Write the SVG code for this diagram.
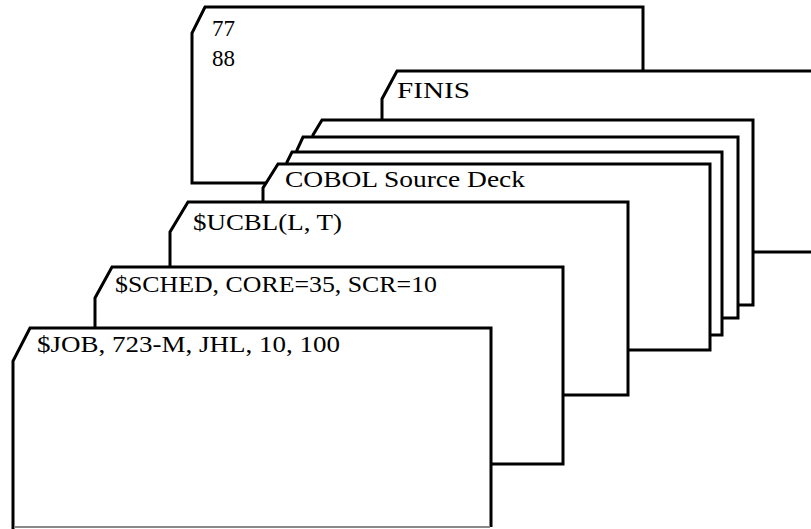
<svg xmlns="http://www.w3.org/2000/svg" width="811" height="529" viewBox="0 0 811 529">
<style>
.card{fill:#fff;stroke:#000;stroke-width:3;stroke-linejoin:miter}
.t{font-family:"Liberation Serif","Times New Roman",serif;font-size:23px;fill:#000}
</style>
<rect width="811" height="529" fill="#fff"/>
<g id="card-data">
<polygon class="card" points="205,7 643,7 643,183 192,183 192,33"/>
<text class="t" x="212" y="36">77</text>
<text class="t" x="212" y="66">88</text>
</g>
<g id="card-finis">
<polygon class="card" points="397,71 830,71 830,252 382,252 382,99"/>
<text class="t" x="397" y="98" textLength="73" lengthAdjust="spacingAndGlyphs">FINIS</text>
</g>
<g id="card-src1">
<polygon class="card" points="322,120 753,120 753,305 313,305 313,135"/>
</g>
<g id="card-src2">
<polygon class="card" points="303,137 738,137 738,318 297,318 297,150"/>
</g>
<g id="card-src3">
<polygon class="card" points="292,152 722,152 722,335 287,335 287,162"/>
</g>
<g id="card-cobol">
<polygon class="card" points="278,164 710,164 710,350 263,350 263,188"/>
<text class="t" x="285" y="187" textLength="240" lengthAdjust="spacingAndGlyphs">COBOL Source Deck</text>
</g>
<g id="card-ucbl">
<polygon class="card" points="188,202 628,202 628,395 170,395 170,232"/>
<text class="t" x="193" y="230" textLength="149" lengthAdjust="spacingAndGlyphs">$UCBL(L, T)</text>
</g>
<g id="card-sched">
<polygon class="card" points="112,267 563,267 563,464 95,464 95,298"/>
<text class="t" x="115" y="292" textLength="322" lengthAdjust="spacingAndGlyphs">$SCHED, CORE=35, SCR=10</text>
</g>
<g id="card-job">
<path d="M13,529 L13,361 L30,328 L491,328 L491,527" fill="#fff" stroke="#000" stroke-width="3" stroke-linejoin="miter"/>
<line x1="14" y1="527" x2="490" y2="527" stroke="#888" stroke-width="2"/>
<text class="t" x="37" y="352" textLength="303" lengthAdjust="spacingAndGlyphs">$JOB, 723-M, JHL, 10, 100</text>
</g>
<g id="connectors"></g>
</svg>
